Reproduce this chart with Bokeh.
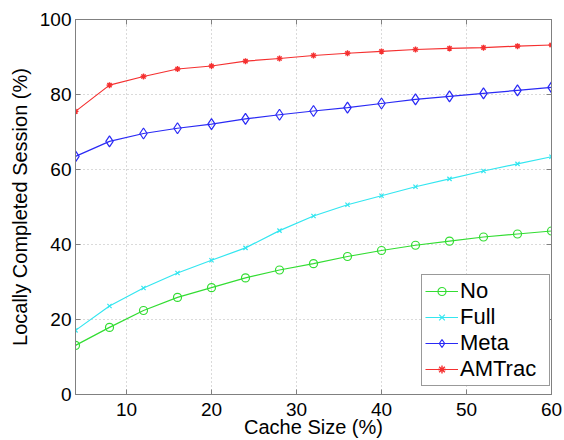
from bokeh.plotting import figure
from bokeh.models import Range1d, LinearAxis, FixedTicker, Legend, LegendItem, CustomJSTickFormatter
from bokeh.embed import file_html
from bokeh.resources import INLINE

cache = [4, 8, 12, 16, 20, 24, 28, 32, 36, 40, 44, 48, 52, 56, 60]
no_vals = [13.1, 17.9, 22.4, 25.9, 28.5, 31.1, 33.2, 34.9, 36.8, 38.4, 39.8, 40.9, 42.0, 42.8, 43.6]
full_vals = [17.1, 23.6, 28.4, 32.4, 35.8, 39.1, 43.7, 47.6, 50.6, 53.0, 55.4, 57.5, 59.6, 61.5, 63.4]
meta_vals = [63.5, 67.5, 69.6, 71.0, 72.1, 73.5, 74.6, 75.6, 76.5, 77.6, 78.7, 79.5, 80.3, 81.1, 81.9]
amtrac_vals = [75.5, 82.5, 84.8, 86.8, 87.6, 88.9, 89.6, 90.4, 91.0, 91.5, 92.0, 92.3, 92.5, 92.9, 93.2]
x_ticks = [10, 20, 30, 40, 50, 60]
y_ticks = [0, 20, 40, 60, 80, 100]

FONT = "Liberation Sans"
GRAY = "#808080"

p = figure(width=564, height=440, output_backend="svg", toolbar_location=None,
           x_range=Range1d(4, 60), y_range=Range1d(0, 100),
           min_border_left=75, min_border_right=13, min_border_top=19, min_border_bottom=46)
p.background_fill_color = "white"
p.border_fill_color = "white"
p.outline_line_color = GRAY
p.outline_line_width = 1

p.xaxis.ticker = FixedTicker(ticks=x_ticks)
p.yaxis.ticker = FixedTicker(ticks=y_ticks)
p.xaxis.axis_label = "Cache Size (%)"
p.yaxis.axis_label = "Locally Completed Session (%)"

for ax in p.axis:
    ax.axis_line_color = GRAY
    ax.major_tick_line_color = GRAY
    ax.major_tick_in = 5
    ax.major_tick_out = 0
    ax.minor_tick_line_color = None
    ax.major_label_text_font = FONT
    ax.major_label_text_font_size = "19px"
    ax.major_label_text_color = "black"
    ax.axis_label_text_font = FONT
    ax.axis_label_text_font_size = "20px"
    ax.axis_label_text_font_style = "normal"
    ax.axis_label_text_color = "black"

p.xaxis.major_label_standoff = 8
p.xaxis.axis_label_standoff = -3
p.yaxis.major_label_standoff = 4
p.yaxis.axis_label_standoff = 6

blank = CustomJSTickFormatter(code="return ''")
top_ax = LinearAxis(ticker=FixedTicker(ticks=x_ticks), formatter=blank)
right_ax = LinearAxis(ticker=FixedTicker(ticks=y_ticks), formatter=blank)
for ax in (top_ax, right_ax):
    ax.axis_line_color = GRAY
    ax.major_tick_line_color = GRAY
    ax.major_tick_in = 5
    ax.major_tick_out = 0
    ax.minor_tick_line_color = None
    ax.major_label_standoff = 0
    ax.major_label_text_font_size = "1px"
p.add_layout(top_ax, "above")
p.add_layout(right_ax, "right")

p.grid.grid_line_color = "#b4b4b4"
p.grid.grid_line_dash = "1 3"
p.grid.grid_line_width = 1
p.xgrid.ticker = FixedTicker(ticks=x_ticks)
p.ygrid.ticker = FixedTicker(ticks=y_ticks)

c_no = "#33dd33"
c_full = "#33e6f0"
c_meta = "#2a2af5"
c_am = "#f53030"

l1 = p.line(cache, no_vals, line_color=c_no, line_width=1.2)
s1 = p.scatter(cache, no_vals, marker="circle", size=8, line_color=c_no, fill_color=None, line_width=1.2)
l2 = p.line(cache, full_vals, line_color=c_full, line_width=1.2)
s2 = p.scatter(cache, full_vals, marker="x", size=6, line_color=c_full, line_width=1.2)
l3 = p.line(cache, meta_vals, line_color=c_meta, line_width=1.2)
s3 = p.scatter(cache, meta_vals, marker="diamond", size=11, line_color=c_meta, fill_color=None, line_width=1.2)
l4 = p.line(cache, amtrac_vals, line_color=c_am, line_width=1.2)
s4 = p.scatter(cache, amtrac_vals, marker="asterisk", size=6, line_color=c_am, line_width=1.4)

legend = Legend(items=[
    LegendItem(label="No", renderers=[l1, s1]),
    LegendItem(label="Full", renderers=[l2, s2]),
    LegendItem(label="Meta", renderers=[l3, s3]),
    LegendItem(label="AMTrac", renderers=[l4, s4]),
], location=(346, 8))
legend.label_text_font = FONT
legend.label_text_font_size = "22px"
legend.label_text_color = "black"
legend.border_line_color = "#333333"
legend.border_line_width = 1
legend.background_fill_color = "white"
legend.background_fill_alpha = 1
legend.padding = 3
legend.margin = 0
legend.spacing = 0
legend.glyph_width = 33
legend.glyph_height = 20
legend.label_standoff = 2
legend.label_height = 22
legend.label_width = 86
p.add_layout(legend, "center")

open("out.html", "w").write(file_html(p, INLINE))
